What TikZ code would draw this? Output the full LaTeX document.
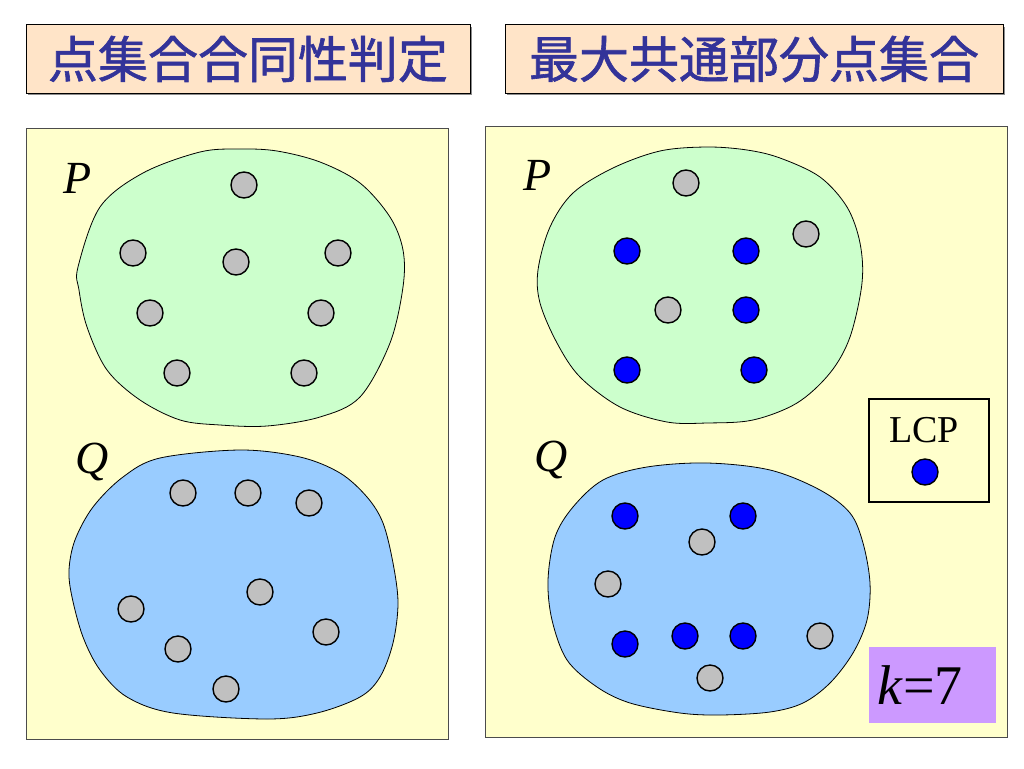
\documentclass[tikz,border=0pt]{standalone}
\usepackage{fontspec}
\setmainfont{Liberation Serif}
\newfontfamily\cjk{Noto Sans CJK JP}[FakeBold=1.2]
\usetikzlibrary{positioning}

\definecolor{titlebg}{HTML}{FFE4C8}
\definecolor{titleblue}{HTML}{333399}
\definecolor{panelbg}{HTML}{FFFFCC}
\definecolor{pfill}{HTML}{CCFFCC}
\definecolor{qfill}{HTML}{99CCFF}
\definecolor{dotgray}{HTML}{C0C0C0}
\definecolor{dotblue}{HTML}{0000FF}
\definecolor{kfill}{HTML}{CC99FF}

\begin{document}
\begin{tikzpicture}[x=1pt, y=-1pt,
    title/.style = {draw, fill=titlebg, line width=1pt, minimum height=68pt, inner sep=0pt, text=titleblue, font=\cjk\fontsize{50}{50}\selectfont},
    panel/.style = {draw=black!70, fill=panelbg, line width=1pt},
    blob/.style = {draw, line width=0.8pt},
    gdot/.style = {draw, circle, fill=dotgray, minimum size=26pt, inner sep=0pt, line width=1.4pt},
    bdot/.style = {gdot, fill=dotblue},
    setlab/.style = {font=\itshape\fontsize{46}{46}\selectfont, inner sep=0pt}]
    \useasboundingbox (0,0) rectangle (1024,768);

    % titles
    \fill[black!45] (28,27) rectangle (472,95);
    \fill[black!45] (507,27) rectangle (1005,95);
    \node[title, minimum width=444pt] (t_1) at (248,59) {点集合合同性判定};
    \node[title, minimum width=498pt] (t_2) at (754,59) {最大共通部分点集合};

    % panels
    \draw[panel] (26,128) rectangle (448,739);
    \draw[panel] (485,126) rectangle (1007,737);

    % left P and Q
    \draw[blob, fill=pfill] plot[smooth cycle, tension=0.55] coordinates {
        (78,267) (100,207) (143,173) (200,152) (240,149) (277,151) (320,162) (360,183)
        (390,217) (403,250) (403,287) (390,343) (360,397) (320,417) (267,426) (220,425)
        (180,420) (140,400) (107,370) (87,327) (79,290)};
    \draw[blob, fill=qfill] plot[smooth cycle, tension=0.55] coordinates {
        (240,450) (160,458) (123,477) (93,507) (75,540) (69,570) (72,597) (83,637)
        (100,670) (127,697) (173,713) (267,719) (317,713) (360,697) (380,677) (393,643)
        (398,603) (393,563) (383,523) (367,497) (340,473) (300,457)};
    \node[setlab] (lp) at (78,178) {P};
    \node[setlab] (lq) at (92,462) {Q};

    \node[gdot] (p_1) at (244,185) {};
    \node[gdot] (p_2) at (133,253) {};
    \node[gdot] (p_3) at (236,262) {};
    \node[gdot] (p_4) at (338,253) {};
    \node[gdot] (p_5) at (150,313) {};
    \node[gdot] (p_6) at (321,313) {};
    \node[gdot] (p_7) at (177,373) {};
    \node[gdot] (p_8) at (304,373) {};

    \node[gdot] (q_1) at (183,493) {};
    \node[gdot] (q_2) at (248,493) {};
    \node[gdot] (q_3) at (309,503) {};
    \node[gdot] (q_4) at (260,592) {};
    \node[gdot] (q_5) at (131,609) {};
    \node[gdot] (q_6) at (326,632) {};
    \node[gdot] (q_7) at (178,649) {};
    \node[gdot] (q_8) at (226,689) {};

    % right P and Q
    \draw[blob, fill=pfill] plot[smooth cycle, tension=0.55] coordinates {
        (707,147) (660,151) (613,168) (573,193) (550,227) (538,270) (540,303) (557,343)
        (580,377) (620,407) (667,422) (707,423) (753,420) (797,403) (830,373) (850,337)
        (862,283) (860,243) (847,207) (820,177) (780,158) (747,150)};
    \draw[blob, fill=qfill] plot[smooth cycle, tension=0.55] coordinates {
        (707,463) (647,467) (603,480) (573,507) (555,537) (548,580) (552,620) (567,660)
        (597,687) (630,703) (680,713) (720,715) (770,712) (803,703) (830,683) (853,653)
        (867,620) (870,583) (863,543) (850,513) (820,490) (770,470)};
    \node[setlab] (rp) at (538,175) {P};
    \node[setlab] (rq) at (551,460) {Q};

    \node[gdot] (rp_1) at (686,183) {};
    \node[bdot] (rp_2) at (627,251) {};
    \node[bdot] (rp_3) at (746,251) {};
    \node[gdot] (rp_4) at (806,234) {};
    \node[gdot] (rp_5) at (668,310) {};
    \node[bdot] (rp_6) at (746,310) {};
    \node[bdot] (rp_7) at (627,370) {};
    \node[bdot] (rp_8) at (754,370) {};

    \node[bdot] (rq_1) at (625,516) {};
    \node[bdot] (rq_2) at (743,516) {};
    \node[gdot] (rq_3) at (702,542) {};
    \node[gdot] (rq_4) at (608,584) {};
    \node[bdot] (rq_5) at (625,644) {};
    \node[bdot] (rq_6) at (685,636) {};
    \node[bdot] (rq_7) at (743,636) {};
    \node[gdot] (rq_8) at (820,636) {};
    \node[gdot] (rq_9) at (710,678) {};

    % legend and k
    \draw[line width=1.2pt] (869,399) rectangle (989,502);
    \node[font=\fontsize{38}{38}\selectfont, inner sep=0pt] (lcp) at (924,430) {LCP};
    \node[bdot] (lcp_dot) at (925,472) {};
    \node[fill=kfill, minimum height=76pt, inner ysep=0pt, inner xsep=9pt, text width=109pt,
          align=left, font=\fontsize{56}{56}\selectfont] (k) at (932,685) {\textit{k}=7};
\end{tikzpicture}
\end{document}
